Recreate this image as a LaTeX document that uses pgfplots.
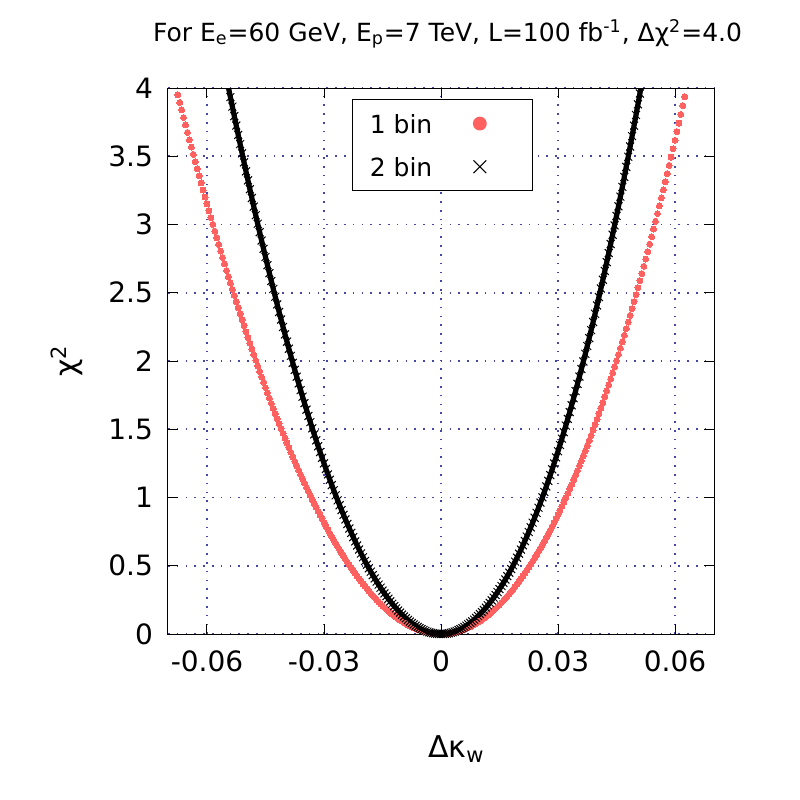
\documentclass[border=0pt]{standalone}
\usepackage{fontspec}
\setmainfont{DejaVu Sans}
\usepackage{pgfplots}
\pgfplotsset{compat=1.18}
\definecolor{redc}{RGB}{255,96,96}
\definecolor{gridc}{RGB}{70,70,170}
\begin{document}
\begin{tikzpicture}
\useasboundingbox (-84pt,-83pt) rectangle (316pt,317pt);
\begin{axis}[
  at={(0pt,0pt)}, anchor=south west,
  scale only axis, width=273pt, height=273pt,
  xmin=-0.07, xmax=0.07, ymin=0, ymax=4,
  scaled x ticks=false, scaled y ticks=false,
  xtick={-0.06,-0.03,0,0.03,0.06},
  xticklabels={-0.06,-0.03,0,0.03,0.06},
  ytick={0,0.5,1,1.5,2,2.5,3,3.5,4},
  yticklabels={0,0.5,1,1.5,2,2.5,3,3.5,4},
  xticklabel style={font=\fontsize{14}{16}\selectfont, yshift=-5pt},
  yticklabel style={font=\fontsize{14}{16}\selectfont, xshift=-4pt},
  axis line style={line width=0.5pt, black},
  tick style={black, line width=0.5pt},
  major tick length=5pt,
  tick align=inside,
  grid=major,
  major grid style={gridc, line width=0.8pt, dash pattern=on 0.8pt off 3.6pt},
  title={For E\textsubscript{e}=60 GeV, E\textsubscript{p}=7 TeV, L=100 fb\textsuperscript{-1}, Δχ\textsuperscript{2}=4.0},
  title style={at={(axis description cs:0.512,1.0641)}, anchor=base, font=\fontsize{12.5}{15}\selectfont},
  xlabel={Δκ\textsubscript{w}},
  xlabel style={at={(axis description cs:0.528,-0.2271)}, anchor=base, font=\fontsize{15}{18}\selectfont},
  ylabel={χ\textsuperscript{2}},
  ylabel style={at={(axis description cs:-0.185,0.5)}, anchor=center, font=\fontsize{15}{18}\selectfont},
  legend plot pos=right,
  legend style={at={(axis description cs:0.3365,0.979)}, anchor=north west,
    draw=black, line width=0.5pt, fill=white, inner xsep=0pt, inner ysep=1pt,
    nodes={inner sep=0pt, text depth=0pt}, cells={anchor=center},
    column sep=0pt, row sep=0pt, font=\fontsize{12.5}{15}\selectfont},
]
\addplot[only marks, mark=*, mark size=1.5pt, color=redc,
  mark options={fill=redc, draw=redc, line width=0pt},
  legend image code/.code={\path[draw=none,fill=none] (0pt,-10.8pt) rectangle (45pt,10.8pt); \fill[redc] (18.8pt,0pt) circle[radius=3.2pt];}]
coordinates {
(-0.0675,3.9507)(-0.0670,3.8948)(-0.0665,3.8393)(-0.0660,3.7841)(-0.0655,3.7293)(-0.0650,3.6749)(-0.0645,3.6208)(-0.0640,3.5671)(-0.0635,3.5138)(-0.0630,3.4608)
(-0.0625,3.4082)(-0.0620,3.3560)(-0.0615,3.3041)(-0.0610,3.2526)(-0.0605,3.2015)(-0.0600,3.1507)(-0.0595,3.1003)(-0.0590,3.0503)(-0.0585,3.0007)(-0.0580,2.9514)
(-0.0575,2.9026)(-0.0570,2.8541)(-0.0565,2.8059)(-0.0560,2.7582)(-0.0555,2.7108)(-0.0550,2.6638)(-0.0545,2.6172)(-0.0540,2.5710)(-0.0535,2.5251)(-0.0530,2.4797)
(-0.0525,2.4346)(-0.0520,2.3899)(-0.0515,2.3456)(-0.0510,2.3017)(-0.0505,2.2581)(-0.0500,2.2150)(-0.0495,2.1722)(-0.0490,2.1299)(-0.0485,2.0879)(-0.0480,2.0463)
(-0.0475,2.0051)(-0.0470,1.9643)(-0.0465,1.9239)(-0.0460,1.8839)(-0.0455,1.8443)(-0.0450,1.8051)(-0.0445,1.7663)(-0.0440,1.7278)(-0.0435,1.6898)(-0.0430,1.6522)
(-0.0425,1.6150)(-0.0420,1.5781)(-0.0415,1.5417)(-0.0410,1.5057)(-0.0405,1.4701)(-0.0400,1.4349)(-0.0395,1.4001)(-0.0390,1.3657)(-0.0385,1.3317)(-0.0380,1.2981)
(-0.0375,1.2649)(-0.0370,1.2322)(-0.0365,1.1998)(-0.0360,1.1679)(-0.0355,1.1363)(-0.0350,1.1052)(-0.0345,1.0745)(-0.0340,1.0442)(-0.0335,1.0143)(-0.0330,0.9849)
(-0.0325,0.9558)(-0.0320,0.9272)(-0.0315,0.8990)(-0.0310,0.8712)(-0.0305,0.8438)(-0.0300,0.8168)(-0.0295,0.7903)(-0.0290,0.7642)(-0.0285,0.7385)(-0.0280,0.7133)
(-0.0275,0.6884)(-0.0270,0.6640)(-0.0265,0.6400)(-0.0260,0.6165)(-0.0255,0.5933)(-0.0250,0.5706)(-0.0245,0.5484)(-0.0240,0.5265)(-0.0235,0.5051)(-0.0230,0.4841)
(-0.0225,0.4636)(-0.0220,0.4435)(-0.0215,0.4238)(-0.0210,0.4045)(-0.0205,0.3857)(-0.0200,0.3674)(-0.0195,0.3494)(-0.0190,0.3319)(-0.0185,0.3149)(-0.0180,0.2983)
(-0.0175,0.2821)(-0.0170,0.2664)(-0.0165,0.2511)(-0.0160,0.2362)(-0.0155,0.2218)(-0.0150,0.2079)(-0.0145,0.1943)(-0.0140,0.1813)(-0.0135,0.1687)(-0.0130,0.1565)
(-0.0125,0.1448)(-0.0120,0.1335)(-0.0115,0.1227)(-0.0110,0.1123)(-0.0105,0.1024)(-0.0100,0.0929)(-0.0095,0.0839)(-0.0090,0.0754)(-0.0085,0.0673)(-0.0080,0.0596)
(-0.0075,0.0524)(-0.0070,0.0457)(-0.0065,0.0394)(-0.0060,0.0336)(-0.0055,0.0283)(-0.0050,0.0234)(-0.0045,0.0189)(-0.0040,0.0150)(-0.0035,0.0115)(-0.0030,0.0084)
(-0.0025,0.0059)(-0.0020,0.0038)(-0.0015,0.0021)(-0.0010,0.0009)(-0.0005,0.0002)(0,0)
(0.0005,0.0002)(0.0010,0.0009)(0.0015,0.0021)(0.0020,0.0038)(0.0025,0.0059)(0.0030,0.0085)(0.0035,0.0116)(0.0040,0.0151)(0.0045,0.0191)(0.0050,0.0236)
(0.0055,0.0286)(0.0060,0.0341)(0.0065,0.0400)(0.0070,0.0464)(0.0075,0.0533)(0.0080,0.0607)(0.0085,0.0686)(0.0090,0.0769)(0.0095,0.0858)(0.0100,0.0951)
(0.0105,0.1049)(0.0110,0.1152)(0.0115,0.1260)(0.0120,0.1372)(0.0125,0.1490)(0.0130,0.1612)(0.0135,0.1740)(0.0140,0.1872)(0.0145,0.2009)(0.0150,0.2151)
(0.0155,0.2299)(0.0160,0.2451)(0.0165,0.2608)(0.0170,0.2770)(0.0175,0.2937)(0.0180,0.3109)(0.0185,0.3286)(0.0190,0.3468)(0.0195,0.3654)(0.0200,0.3846)
(0.0205,0.4043)(0.0210,0.4245)(0.0215,0.4452)(0.0220,0.4665)(0.0225,0.4882)(0.0230,0.5104)(0.0235,0.5331)(0.0240,0.5564)(0.0245,0.5801)(0.0250,0.6044)
(0.0255,0.6291)(0.0260,0.6544)(0.0265,0.6802)(0.0270,0.7065)(0.0275,0.7333)(0.0280,0.7607)(0.0285,0.7885)(0.0290,0.8169)(0.0295,0.8458)(0.0300,0.8752)
(0.0305,0.9051)(0.0310,0.9355)(0.0315,0.9665)(0.0320,0.9980)(0.0325,1.0300)(0.0330,1.0625)(0.0335,1.0955)(0.0340,1.1291)(0.0345,1.1632)(0.0350,1.1978)
(0.0355,1.2330)(0.0360,1.2686)(0.0365,1.3048)(0.0370,1.3416)(0.0375,1.3788)(0.0380,1.4166)(0.0385,1.4549)(0.0390,1.4938)(0.0395,1.5332)(0.0400,1.5731)
(0.0405,1.6136)(0.0410,1.6546)(0.0415,1.6961)(0.0420,1.7382)(0.0425,1.7808)(0.0430,1.8239)(0.0435,1.8676)(0.0440,1.9118)(0.0445,1.9566)(0.0450,2.0019)
(0.0455,2.0478)(0.0460,2.0942)(0.0465,2.1411)(0.0470,2.1886)(0.0475,2.2366)(0.0480,2.2852)(0.0485,2.3343)(0.0490,2.3840)(0.0495,2.4342)(0.0500,2.4850)
(0.0505,2.5363)(0.0510,2.5882)(0.0515,2.6406)(0.0520,2.6936)(0.0525,2.7472)(0.0530,2.8012)(0.0535,2.8559)(0.0540,2.9111)(0.0545,2.9669)(0.0550,3.0232)
(0.0555,3.0801)(0.0560,3.1375)(0.0565,3.1955)(0.0570,3.2541)(0.0575,3.3132)(0.0580,3.3729)(0.0585,3.4331)(0.0590,3.4940)(0.0595,3.5553)(0.0600,3.6173)
(0.0605,3.6798)(0.0610,3.7429)(0.0615,3.8065)(0.0620,3.8708)(0.0625,3.9355)
};
\addlegendentry{\hbox to 45pt{\rule{8.8pt}{0pt}1 bin\hfil}}
\addplot[black, line width=2.6pt, mark=x, mark size=2.8pt,
  mark options={line width=0.5pt, solid},
  legend image code/.code={\path[draw=none,fill=none] (0pt,-10.8pt) rectangle (45pt,10.8pt); \draw[black,line width=0.5pt] (15.6pt,-3.2pt)--(22pt,3.2pt) (15.6pt,3.2pt)--(22pt,-3.2pt);}]
coordinates {
(-0.0550,4.0756)(-0.0545,4.0043)(-0.0540,3.9336)(-0.0535,3.8635)(-0.0530,3.7939)(-0.0525,3.7249)(-0.0520,3.6566)(-0.0515,3.5888)(-0.0510,3.5216)(-0.0505,3.4550)
(-0.0500,3.3890)(-0.0495,3.3235)(-0.0490,3.2587)(-0.0485,3.1945)(-0.0480,3.1309)(-0.0475,3.0679)(-0.0470,3.0054)(-0.0465,2.9436)(-0.0460,2.8824)(-0.0455,2.8218)
(-0.0450,2.7618)(-0.0445,2.7024)(-0.0440,2.6436)(-0.0435,2.5854)(-0.0430,2.5279)(-0.0425,2.4709)(-0.0420,2.4146)(-0.0415,2.3588)(-0.0410,2.3037)(-0.0405,2.2492)
(-0.0400,2.1954)(-0.0395,2.1421)(-0.0390,2.0895)(-0.0385,2.0375)(-0.0380,1.9861)(-0.0375,1.9353)(-0.0370,1.8852)(-0.0365,1.8357)(-0.0360,1.7868)(-0.0355,1.7386)
(-0.0350,1.6910)(-0.0345,1.6440)(-0.0340,1.5976)(-0.0335,1.5519)(-0.0330,1.5068)(-0.0325,1.4624)(-0.0320,1.4186)(-0.0315,1.3754)(-0.0310,1.3329)(-0.0305,1.2910)
(-0.0300,1.2498)(-0.0295,1.2092)(-0.0290,1.1692)(-0.0285,1.1299)(-0.0280,1.0913)(-0.0275,1.0533)(-0.0270,1.0159)(-0.0265,0.9792)(-0.0260,0.9432)(-0.0255,0.9078)
(-0.0250,0.8731)(-0.0245,0.8390)(-0.0240,0.8056)(-0.0235,0.7728)(-0.0230,0.7407)(-0.0225,0.7093)(-0.0220,0.6785)(-0.0215,0.6484)(-0.0210,0.6189)(-0.0205,0.5902)
(-0.0200,0.5621)(-0.0195,0.5346)(-0.0190,0.5079)(-0.0185,0.4818)(-0.0180,0.4563)(-0.0175,0.4316)(-0.0170,0.4075)(-0.0165,0.3841)(-0.0160,0.3614)(-0.0155,0.3394)
(-0.0150,0.3180)(-0.0145,0.2973)(-0.0140,0.2774)(-0.0135,0.2581)(-0.0130,0.2394)(-0.0125,0.2215)(-0.0120,0.2043)(-0.0115,0.1877)(-0.0110,0.1718)(-0.0105,0.1567)
(-0.0100,0.1422)(-0.0095,0.1284)(-0.0090,0.1153)(-0.0085,0.1029)(-0.0080,0.0912)(-0.0075,0.0802)(-0.0070,0.0699)(-0.0065,0.0603)(-0.0060,0.0514)(-0.0055,0.0432)
(-0.0050,0.0358)(-0.0045,0.0290)(-0.0040,0.0229)(-0.0035,0.0176)(-0.0030,0.0129)(-0.0025,0.0090)(-0.0020,0.0057)(-0.0015,0.0032)(-0.0010,0.0014)(-0.0005,0.0004)(0,0)
(0.0005,0.0004)(0.0010,0.0014)(0.0015,0.0032)(0.0020,0.0058)(0.0025,0.0090)(0.0030,0.0130)(0.0035,0.0177)(0.0040,0.0231)(0.0045,0.0293)(0.0050,0.0362)
(0.0055,0.0438)(0.0060,0.0521)(0.0065,0.0612)(0.0070,0.0710)(0.0075,0.0816)(0.0080,0.0929)(0.0085,0.1049)(0.0090,0.1177)(0.0095,0.1312)(0.0100,0.1455)
(0.0105,0.1605)(0.0110,0.1762)(0.0115,0.1927)(0.0120,0.2100)(0.0125,0.2280)(0.0130,0.2467)(0.0135,0.2662)(0.0140,0.2864)(0.0145,0.3074)(0.0150,0.3292)
(0.0155,0.3517)(0.0160,0.3750)(0.0165,0.3990)(0.0170,0.4238)(0.0175,0.4493)(0.0180,0.4756)(0.0185,0.5027)(0.0190,0.5305)(0.0195,0.5591)(0.0200,0.5885)
(0.0205,0.6186)(0.0210,0.6496)(0.0215,0.6812)(0.0220,0.7137)(0.0225,0.7469)(0.0230,0.7809)(0.0235,0.8157)(0.0240,0.8513)(0.0245,0.8876)(0.0250,0.9247)
(0.0255,0.9626)(0.0260,1.0013)(0.0265,1.0407)(0.0270,1.0810)(0.0275,1.1220)(0.0280,1.1638)(0.0285,1.2064)(0.0290,1.2498)(0.0295,1.2940)(0.0300,1.3390)
(0.0305,1.3848)(0.0310,1.4313)(0.0315,1.4787)(0.0320,1.5269)(0.0325,1.5758)(0.0330,1.6256)(0.0335,1.6761)(0.0340,1.7275)(0.0345,1.7797)(0.0350,1.8326)
(0.0355,1.8864)(0.0360,1.9410)(0.0365,1.9964)(0.0370,2.0526)(0.0375,2.1096)(0.0380,2.1674)(0.0385,2.2261)(0.0390,2.2855)(0.0395,2.3458)(0.0400,2.4069)
(0.0405,2.4688)(0.0410,2.5315)(0.0415,2.5950)(0.0420,2.6594)(0.0425,2.7246)(0.0430,2.7906)(0.0435,2.8575)(0.0440,2.9251)(0.0445,2.9936)(0.0450,3.0629)
(0.0455,3.1331)(0.0460,3.2041)(0.0465,3.2759)(0.0470,3.3485)(0.0475,3.4220)(0.0480,3.4964)(0.0485,3.5715)(0.0490,3.6475)(0.0495,3.7244)(0.0500,3.8021)
(0.0505,3.8806)(0.0510,3.9600)(0.0515,4.0402)
};
\addlegendentry{\hbox to 45pt{\rule{8.8pt}{0pt}2 bin\hfil}}
\end{axis}
\end{tikzpicture}
\end{document}
